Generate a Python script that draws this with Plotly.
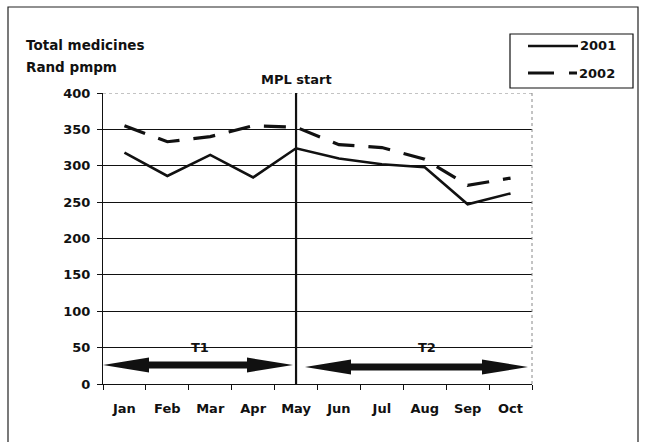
import plotly.graph_objects as go

# Monthly total medicines cost, Rand per member per month
months = ["Jan", "Feb", "Mar", "Apr", "May", "Jun", "Jul", "Aug", "Sep", "Oct"]
cost_2001 = [318, 286, 315, 284, 324, 310, 302, 298, 247, 262]
cost_2002 = [355, 333, 340, 355, 353, 329, 325, 309, 273, 283]
y_ticks = [0, 50, 100, 150, 200, 250, 300, 350, 400]
series_names = ["2001", "2002"]
mpl_start_month = "May"

FONT = "DejaVu Sans, Liberation Sans, Arial, sans-serif"
INK = "#111111"
W, H = 645, 442
ML, MR, MT, MB = 103, 113, 93, 58
PLOT_W = W - ML - MR
PLOT_H = H - MT - MB
Y_MAX = 400

SOLID = dict(color=INK, width=2.6)
DASHED = dict(color=INK, width=3.2, dash="22px,14px")


def px_x(px):
    """Pixel column -> paper x."""
    return (px - ML) / PLOT_W


def px_y(py):
    """Pixel row -> paper y."""
    return (H - MB - py) / PLOT_H


def double_arrow(x_left, x_right, y_mid, head_len=46, head_half=7.5, shaft_half=3.5):
    """Closed SVG path (paper coords) for a thick double-headed arrow."""
    pts = [
        (x_left, y_mid),
        (x_left + head_len, y_mid - head_half),
        (x_left + head_len, y_mid - shaft_half),
        (x_right - head_len, y_mid - shaft_half),
        (x_right - head_len, y_mid - head_half),
        (x_right, y_mid),
        (x_right - head_len, y_mid + head_half),
        (x_right - head_len, y_mid + shaft_half),
        (x_left + head_len, y_mid + shaft_half),
        (x_left + head_len, y_mid + head_half),
    ]
    cmds = []
    for i, (x, y) in enumerate(pts):
        cmds.append(("M" if i == 0 else "L") + f"{px_x(x):.5f},{px_y(y):.5f}")
    return " ".join(cmds) + " Z"


fig = go.Figure()

fig.add_trace(go.Scatter(
    x=months, y=cost_2001, name=series_names[0], mode="lines",
    line=SOLID, showlegend=False,
))
fig.add_trace(go.Scatter(
    x=months, y=cost_2002, name=series_names[1], mode="lines",
    line=DASHED, showlegend=False,
))

shapes = [
    # outer frame
    dict(type="rect", xref="paper", yref="paper",
         x0=px_x(8), x1=px_x(638), y0=px_y(460), y1=px_y(7),
         line=dict(color="#222222", width=1.2), fillcolor="rgba(0,0,0,0)", layer="below"),
    # dotted top and right plot border
    dict(type="line", xref="paper", yref="y", x0=0, x1=1, y0=Y_MAX, y1=Y_MAX,
         line=dict(color="#888888", width=1, dash="dot")),
    dict(type="line", xref="paper", yref="y", x0=1, x1=1, y0=0, y1=Y_MAX,
         line=dict(color="#888888", width=1, dash="dot")),
    # MPL start marker
    dict(type="line", xref="x", yref="y",
         x0=months.index(mpl_start_month), x1=months.index(mpl_start_month),
         y0=0, y1=Y_MAX, line=dict(color=INK, width=2.2)),
    # period arrows
    dict(type="path", xref="paper", yref="paper",
         path=double_arrow(103, 293, 365), fillcolor=INK, line=dict(width=0)),
    dict(type="path", xref="paper", yref="paper",
         path=double_arrow(305, 528, 367), fillcolor=INK, line=dict(width=0)),
    # legend box and samples
    dict(type="rect", xref="paper", yref="paper",
         x0=px_x(510), x1=px_x(633), y0=px_y(88), y1=px_y(34),
         line=dict(color=INK, width=1.2), fillcolor="white"),
    dict(type="line", xref="paper", yref="paper",
         x0=px_x(528), x1=px_x(578), y0=px_y(46), y1=px_y(46), line=SOLID),
    dict(type="line", xref="paper", yref="paper",
         x0=px_x(528), x1=px_x(577), y0=px_y(73), y1=px_y(73),
         line=dict(color=INK, width=3.2, dash="26px,15px")),
]

label_font = dict(family=FONT, size=13, color=INK, weight="bold")
title_font = dict(family=FONT, size=13.5, color=INK, weight="bold")
annotations = [
    dict(text="Total medicines", xref="paper", yref="paper", x=px_x(24), y=px_y(45),
         xanchor="left", yanchor="middle", showarrow=False, font=title_font),
    dict(text="Rand pmpm", xref="paper", yref="paper", x=px_x(24), y=px_y(67),
         xanchor="left", yanchor="middle", showarrow=False, font=title_font),
    dict(text="MPL start", xref="x", yref="paper", x=months.index(mpl_start_month),
         y=px_y(80), xanchor="center", yanchor="middle", showarrow=False, font=label_font),
    dict(text="T1", xref="paper", yref="paper", x=px_x(200), y=px_y(347),
         xanchor="center", yanchor="middle", showarrow=False, font=label_font),
    dict(text="T2", xref="paper", yref="paper", x=px_x(427), y=px_y(347),
         xanchor="center", yanchor="middle", showarrow=False, font=label_font),
    dict(text=series_names[0], xref="paper", yref="paper", x=px_x(578), y=px_y(46),
         xanchor="left", yanchor="middle", showarrow=False, font=label_font),
    dict(text=series_names[1], xref="paper", yref="paper", x=px_x(577), y=px_y(73),
         xanchor="left", yanchor="middle", showarrow=False, font=label_font),
]

tick_font = dict(family=FONT, size=13, color=INK, weight="bold")

fig.update_layout(
    width=W, height=H,
    margin=dict(l=ML, r=MR, t=MT, b=MB, pad=0),
    paper_bgcolor="white", plot_bgcolor="white",
    font=dict(family=FONT, color=INK),
    shapes=shapes,
    annotations=annotations,
    showlegend=False,
    xaxis=dict(
        type="category", categoryorder="array", categoryarray=months,
        range=[-0.5, len(months) - 0.5],
        tickson="boundaries", ticks="outside", ticklen=5, tickcolor=INK,
        ticklabelstandoff=12,
        showline=True, linecolor=INK, linewidth=1.2,
        showgrid=False, zeroline=False,
        tickfont=tick_font,
        fixedrange=True,
    ),
    yaxis=dict(
        range=[0, Y_MAX], tickmode="array", tickvals=y_ticks,
        ticks="outside", ticklen=5, tickcolor=INK,
        ticklabelstandoff=4,
        showline=True, linecolor=INK, linewidth=1.2,
        showgrid=True, gridcolor=INK, gridwidth=1,
        zeroline=False, tickfont=tick_font,
        fixedrange=True,
    ),
)

fig.write_html("out.html")
